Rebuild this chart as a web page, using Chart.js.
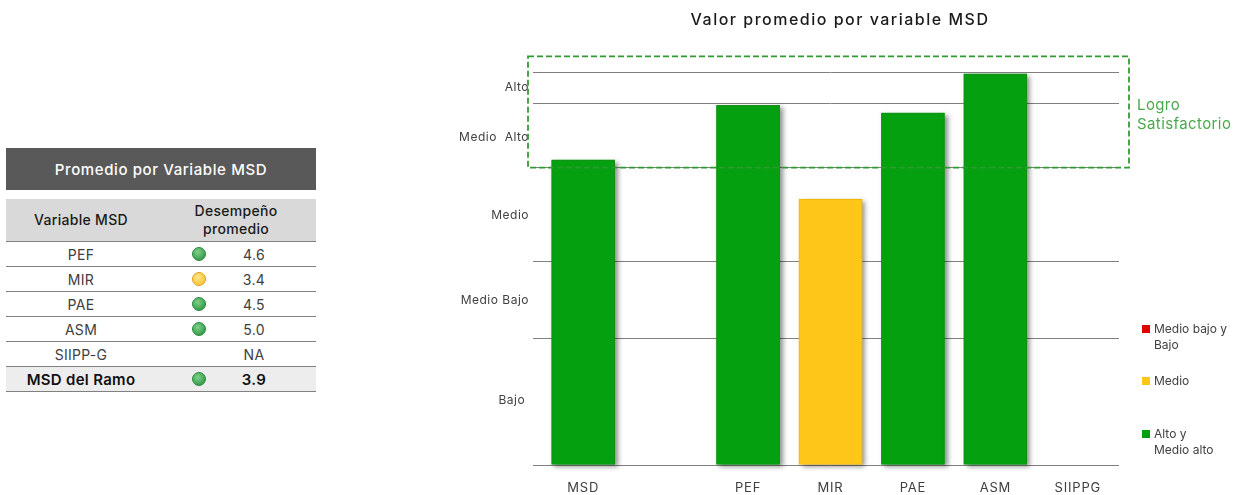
<!DOCTYPE html>
<html lang="es">
<head>
<meta charset="utf-8">
<title>Valor promedio por variable MSD</title>
<script src="https://cdn.jsdelivr.net/npm/chart.js@4.4.1/dist/chart.umd.min.js"></script>
<style>
  html, body { margin: 0; padding: 0; background: #fff; }
  body { width: 1240px; height: 495px; position: relative; overflow: hidden; font-family: Inter, "Open Sans", sans-serif; }
  #tabla { position: absolute; left: 6px; top: 148px; width: 310px; border-collapse: collapse; font-size: 14px; color: #404040; letter-spacing: 0.3px; }
  #tabla .titulo td { background: #595959; color: #fff; height: 42px; text-align: center; font-size: 15px; font-weight: 500; padding: 0; letter-spacing: 0.6px; }
  #tabla .sep td { height: 9px; padding: 0; }
  #tabla .cab td { background: #d9d9d9; color: #1a1a1a; font-weight: 500; text-align: center; height: 42px; padding: 0; border-bottom: 1px solid #808080; line-height: 18px; }
  #tabla .fila td { height: 24px; padding: 0; border-bottom: 1px solid #808080; }
  #tabla .fila td.var { text-align: center; width: 150px; }
  #tabla .fila.total td { background: #ededed; color: #111; font-weight: 600; font-size: 15px; }
  .celda { display: flex; align-items: center; }
  .dot { width: 14px; height: 14px; border-radius: 50%; margin-left: 36px; box-sizing: border-box; }
  .dot.verde { background: radial-gradient(circle at 40% 35%, #7fd08a, #3aa14f 70%); border: 1px solid #2f8a3f; }
  .dot.amarillo { background: radial-gradient(circle at 40% 35%, #ffe58a, #f8c840 70%); border: 1px solid #e0a020; }
  .dot.vacio { visibility: hidden; }
  .val { width: 40px; margin-left: 28px; text-align: center; }
  #wrap { position: absolute; left: 440px; top: 0; width: 800px; height: 495px; }
</style>
</head>
<body>
<table id="tabla"></table>
<div id="wrap"><canvas id="grafica"></canvas></div>
<script>
// --- datos ---
const categorias = ['MSD', '', 'PEF', 'MIR', 'PAE', 'ASM', 'SIIPPG'];
const serieBajo = [null, null, null, null, null, null, null];
const serieMedio = [null, null, null, 3.4, null, null, null];
const serieAlto = [3.9, null, 4.6, null, 4.5, 5.0, null];
const nombresSeries = [['Medio bajo y', 'Bajo'], ['Medio'], ['Alto y', 'Medio alto']];

// limites de las bandas (lineas horizontales) y etiquetas del eje
const limitesBandas = [0, 1.62, 2.6, 3.8, 4.62, 5.02];
const posEtiquetas = [0.83, 2.1, 3.19, 4.18, 4.83];
const etiquetasBandas = ['Bajo ', 'Medio Bajo', 'Medio', 'Medio  Alto', 'Alto'];
const rangoLogro = [3.8, 5.22];
const textoLogro = ['Logro', 'Satisfactorio'];

// tabla de la izquierda
const tablaVariables = ['PEF', 'MIR', 'PAE', 'ASM', 'SIIPP-G', 'MSD del Ramo'];
const tablaValores = ['4.6', '3.4', '4.5', '5.0', 'NA', '3.9'];
const tablaSemaforo = ['verde', 'amarillo', 'verde', 'verde', 'vacio', 'verde'];

const VERDE = '#04a010', AMARILLO = '#ffc61a', ROJO = '#e00000';
const FUENTE = 'Inter, "Open Sans", sans-serif';

function armarTabla() {
  let html = '<tr class="titulo"><td colspan="2">Promedio por Variable MSD</td></tr>';
  html += '<tr class="sep"><td colspan="2"></td></tr>';
  html += '<tr class="cab"><td>Variable MSD</td><td>Desempeño<br>promedio</td></tr>';
  tablaVariables.forEach((v, i) => {
    const total = i === tablaVariables.length - 1 ? ' total' : '';
    html += `<tr class="fila${total}"><td class="var">${v}</td><td><div class="celda">` +
      `<span class="dot ${tablaSemaforo[i]}"></span><span class="val">${tablaValores[i]}</span></div></td></tr>`;
  });
  document.getElementById('tabla').innerHTML = html;
}

// sombra de las barras (la barra con borde se recorta, asi que la sombra va aparte)
const sombraBarras = {
  id: 'sombraBarras',
  beforeDatasetsDraw(chart) {
    const ctx = chart.ctx;
    ctx.save();
    ctx.shadowColor = 'rgba(0,0,0,0.45)';
    ctx.shadowBlur = 5;
    ctx.shadowOffsetX = 3;
    ctx.shadowOffsetY = 2;
    chart.data.datasets.forEach((d, i) => {
      chart.getDatasetMeta(i).data.forEach((bar, j) => {
        if (d.data[j] == null) return;
        const p = bar.getProps(['x', 'y', 'base', 'width'], true);
        ctx.fillStyle = d.backgroundColor;
        ctx.fillRect(p.x - p.width / 2, p.y, p.width, p.base - p.y);
      });
    });
    ctx.restore();
  }
};

// espaciado de letras: titulo y etiquetas de los ejes
function conEspaciado(obj, metodo, espacio) {
  if (!obj || obj['_esp_' + metodo]) return;
  const original = obj[metodo];
  obj[metodo] = function (...args) {
    const ctx = this.ctx;
    ctx.letterSpacing = espacio;
    original.apply(this, args);
    ctx.letterSpacing = '0px';
  };
  obj['_esp_' + metodo] = true;
}
const espaciado = {
  id: 'espaciado',
  afterInit(chart) {
    conEspaciado(chart.titleBlock, 'draw', '1.5px');
  },
  afterUpdate(chart) {
    conEspaciado(chart.scales.x, 'drawLabels', '0.8px');
    conEspaciado(chart.scales.yEtiquetas, 'drawLabels', '0.5px');
  }
};

// recuadro "Logro Satisfactorio" y leyenda
const extras = {
  id: 'extras',
  afterDraw(chart) {
    const ctx = chart.ctx;
    const area = chart.chartArea;
    const y = chart.scales.y;
    const top = y.getPixelForValue(rangoLogro[1]);
    const bottom = y.getPixelForValue(rangoLogro[0]);
    const left = area.left - 14, right = area.right + 10;

    ctx.save();
    ctx.strokeStyle = '#2f9a2f';
    ctx.lineWidth = 1.75;
    ctx.setLineDash([6, 3]);
    ctx.strokeRect(left, top, right - left, bottom - top);
    ctx.setLineDash([]);

    ctx.fillStyle = '#4aa84a';
    ctx.font = '15px ' + FUENTE;
    ctx.letterSpacing = '0.4px';
    ctx.textBaseline = 'middle';
    ctx.textAlign = 'left';
    textoLogro.forEach((t, i) => ctx.fillText(t, right + 8, top + 49 + i * 19));
    ctx.letterSpacing = '0px';

    // leyenda
    const filasY = [329, 381, 434];
    ctx.font = '12px ' + FUENTE;
    chart.data.datasets.forEach((d, i) => {
      ctx.fillStyle = d.backgroundColor;
      ctx.fillRect(area.right + 23, filasY[i] - 4, 8, 8);
      ctx.fillStyle = '#404040';
      nombresSeries[i].forEach((t, j) => ctx.fillText(t, area.right + 35, filasY[i] + j * 16));
    });
    ctx.restore();
  }
};

function dibujarGrafica() {
  const canvas = document.getElementById('grafica');
  canvas.width = 800;
  canvas.height = 495;
  const chart = new Chart(canvas.getContext('2d'), {
    type: 'bar',
    data: {
      labels: categorias,
      datasets: [
        { label: nombresSeries[0].join(' '), data: serieBajo, backgroundColor: ROJO, borderColor: '#b00000', borderWidth: 1 },
        { label: nombresSeries[1].join(' '), data: serieMedio, backgroundColor: AMARILLO, borderColor: '#f0b800', borderWidth: 1 },
        { label: nombresSeries[2].join(' '), data: serieAlto, backgroundColor: VERDE, borderColor: '#1a8a1a', borderWidth: 1 }
      ]
    },
    options: {
      responsive: false,
      animation: false,
      layout: { padding: 0 },
      datasets: { bar: { categoryPercentage: 1, barPercentage: 0.77 } },
      plugins: {
        legend: { display: false },
        tooltip: { enabled: false },
        title: {
          display: true,
          text: 'Valor promedio por variable MSD',
          color: '#1a1a1a',
          font: { family: FUENTE, size: 16, weight: '500' },
          padding: { top: 11, bottom: 20 }
        }
      },
      scales: {
        x: {
          stacked: true,
          grid: { display: false },
          border: { display: false },
          ticks: { color: '#404040', padding: 7, font: { family: FUENTE, size: 13 } },
          afterFit: s => { s.height = 30; }
        },
        y: {
          stacked: true,
          min: 0,
          max: 5.3,
          weight: 0,
          border: { display: false },
          grid: { color: '#808080', lineWidth: 1, drawTicks: true, tickLength: 9 },
          ticks: { display: false },
          afterBuildTicks: s => { s.ticks = limitesBandas.map(v => ({ value: v })); },
          afterFit: s => { s.width = 9; }
        },
        yEtiquetas: {
          position: 'left',
          min: 0,
          max: 5.3,
          weight: 1,
          border: { display: false },
          grid: { display: false, drawTicks: false },
          ticks: {
            color: '#404040',
            padding: 4,
            autoSkip: false,
            font: { family: FUENTE, size: 12 },
            callback: (v, i) => etiquetasBandas[i]
          },
          afterBuildTicks: s => { s.ticks = posEtiquetas.map(v => ({ value: v })); },
          afterFit: s => { s.width = 93; }
        },
        // espacio a la derecha para la leyenda y el texto del recuadro
        margenDerecho: {
          position: 'right',
          min: 0,
          max: 1,
          border: { display: false },
          grid: { display: false, drawTicks: false },
          ticks: { display: false },
          afterFit: s => { s.width = 121; }
        }
      }
    },
    plugins: [espaciado, sombraBarras, extras]
  });
  chart.draw();
}

document.addEventListener('DOMContentLoaded', () => {
  armarTabla();
  dibujarGrafica();
});
</script>
</body>
</html>
